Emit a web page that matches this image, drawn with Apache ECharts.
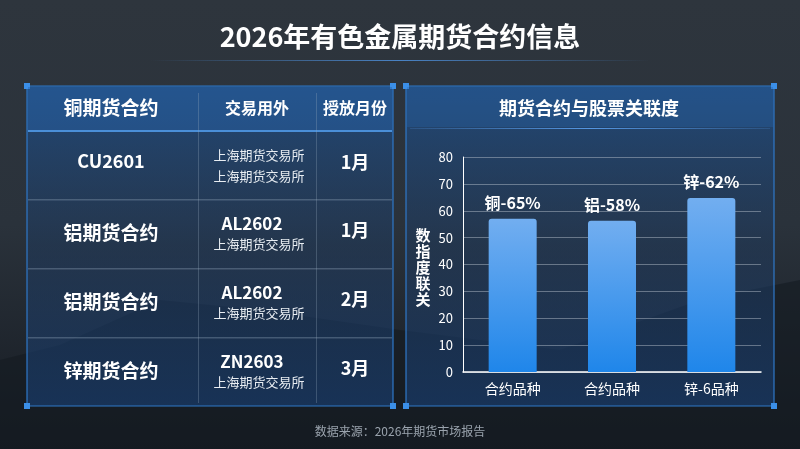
<!DOCTYPE html>
<html><head><meta charset="utf-8">
<script src="https://cdn.jsdelivr.net/npm/echarts@6/dist/echarts.min.js"></script>
<style>html,body{margin:0;padding:0;background:#1c232b}#c{width:800px;height:449px}</style>
</head><body><div id="c"></div>
<script>
var categories = ['合约品种', '合约品种', '锌-6品种'];
var values = [57, 56.3, 64.7];
var barLabels = ['铜-65%', '铝-58%', '锌-62%'];
var yTicks = [0, 10, 20, 30, 40, 50, 60, 70, 80];
var tableHeader = ['铜期货合约', '交易用外', '授放月份'];
var tableCol1 = ['CU2601', '铝期货合约', '铝期货合约', '锌期货合约'];
var tableCol2Top = ['上海期货交易所', 'AL2602', 'AL2602', 'ZN2603'];
var tableCol2Bottom = ['上海期货交易所', '上海期货交易所', '上海期货交易所', '上海期货交易所'];
var tableCol3 = ['1月', '1月', '2月', '3月'];

var F = '"Noto Sans CJK SC","Noto Sans",sans-serif';
var g = [];
// background
g.push({type:'rect',shape:{x:0,y:0,width:800,height:449},style:{fill:new echarts.graphic.LinearGradient(0,0,0,1,[{offset:0,color:'#2e353d'},{offset:0.5,color:'#2a323b'},{offset:1,color:'#161b22'}])},z:-10});
g.push({type:'polygon',shape:{points:[[0,360],[60,345],[160,300],[260,310],[400,330],[560,350],[700,300],[800,280],[800,449],[0,449]]},style:{fill:'rgba(20,26,33,0.6)'},z:-9});
// title
g.push({type:'text',x:400,y:37,style:{text:'2026年有色金属期货合约信息',fill:'#fff',font:'bold 27px '+F,align:'center',verticalAlign:'middle',shadowColor:'rgba(0,0,0,0.6)',shadowBlur:4}});
g.push({type:'rect',shape:{x:150,y:60,width:500,height:1},style:{fill:new echarts.graphic.LinearGradient(0,0,1,0,[{offset:0,color:'rgba(80,150,230,0)'},{offset:0.5,color:'rgba(80,150,230,0.8)'},{offset:1,color:'rgba(80,150,230,0)'}])}});
g.push({type:'text',x:400,y:431,style:{text:'数据来源：2026年期货市场报告',fill:'#9aa3ad',font:'12px '+F,align:'center',verticalAlign:'middle'}});
function panel(x,y,w,h){
  g.push({type:'rect',shape:{x:x,y:y,width:w,height:h},style:{fill:new echarts.graphic.LinearGradient(0,0,0,1,[{offset:0,color:'rgba(30,80,140,0.75)'},{offset:0.5,color:'rgba(30,60,100,0.45)'},{offset:1,color:'rgba(25,65,120,0.6)'}]),stroke:'#2f78c8',lineWidth:1.2},z:-5});
  [[x,y],[x+w,y],[x,y+h],[x+w,y+h]].forEach(function(p){g.push({type:'rect',shape:{x:p[0]-3,y:p[1]-3,width:6,height:6},style:{fill:'#3b8fe8'}});});
}
panel(27,86,366,320);
panel(406,86,368,320);
// table
var cx=[111,257,355];
g.push({type:'rect',shape:{x:28,y:87,width:364,height:44},style:{fill:'rgba(40,100,170,0.45)'}});
g.push({type:'rect',shape:{x:28,y:130,width:364,height:2},style:{fill:'#4a8fd8'}});
tableHeader.forEach(function(t,i){g.push({type:'text',x:cx[i],y:108,style:{text:t,fill:'#fff',font:'bold '+(i==0?19:16)+'px '+F,align:'center',verticalAlign:'middle'}});});
[198,316].forEach(function(x){g.push({type:'rect',shape:{x:x,y:93,width:1,height:310},style:{fill:'rgba(150,170,190,0.3)'}});});
var rowTop=[131,199,268,337];
rowTop.forEach(function(y,i){
  if(i>0) g.push({type:'rect',shape:{x:28,y:y,width:364,height:1.5},style:{fill:'rgba(150,170,190,0.35)'}});
  var m=y+34;
  g.push({type:'text',x:cx[0],y:m-(i==0?4:0),style:{text:tableCol1[i],fill:'#fff',font:'bold '+(i==0?18:19)+'px '+F,align:'center',verticalAlign:'middle'}});
  if(i==0){
    g.push({type:'text',x:cx[1]+2,y:m-10,style:{text:tableCol2Top[i],fill:'#e8edf2',font:'13px '+F,align:'center',verticalAlign:'middle'}});
  } else {
    g.push({type:'text',x:cx[1]-5,y:m-9,style:{text:tableCol2Top[i],fill:'#fff',font:'bold 17px '+F,align:'center',verticalAlign:'middle'}});
  }
  g.push({type:'text',x:cx[1]+2,y:m+11,style:{text:tableCol2Bottom[i],fill:'#e8edf2',font:'13px '+F,align:'center',verticalAlign:'middle'}});
  g.push({type:'text',x:cx[2],y:m-3,style:{text:tableCol3[i],fill:'#fff',font:'bold 18px '+F,align:'center',verticalAlign:'middle'}});
});
// chart panel title
g.push({type:'rect',shape:{x:407,y:87,width:366,height:40},style:{fill:'rgba(40,100,170,0.35)'}});
g.push({type:'rect',shape:{x:410,y:128,width:360,height:1},style:{fill:new echarts.graphic.LinearGradient(0,0,1,0,[{offset:0,color:'rgba(80,150,230,0.2)'},{offset:0.5,color:'rgba(90,160,240,0.9)'},{offset:1,color:'rgba(80,150,230,0.2)'}])}});
g.push({type:'text',x:589,y:108,style:{text:'期货合约与股票关联度',fill:'#fff',font:'bold 18px '+F,align:'center',verticalAlign:'middle'}});
g.push({type:'text',x:423,y:267,style:{text:'数\n指\n度\n联\n关',fill:'#fff',font:'bold 15px '+F,align:'center',verticalAlign:'middle',lineHeight:16}});

var chart = echarts.init(document.getElementById('c'));
chart.setOption({
  animation:false,
  graphic:{elements:g},
  grid:{left:463,right:39,top:157,bottom:77},
  xAxis:{type:'category',data:categories,axisLine:{lineStyle:{color:'#fff',width:1.5}},axisTick:{show:false},axisLabel:{color:'#fff',fontSize:14,fontFamily:F,margin:10}},
  yAxis:{type:'value',min:0,max:80,interval:10,axisLine:{show:true,lineStyle:{color:'#fff'}},axisLabel:{color:'#fff',fontSize:13,fontFamily:F,margin:10,formatter:function(v){return yTicks.indexOf(v)>=0?v:'';}},splitLine:{lineStyle:{color:'rgba(190,200,210,0.45)'}}},
  series:[{type:'bar',data:values,barWidth:48,
    itemStyle:{borderRadius:[3,3,0,0],color:new echarts.graphic.LinearGradient(0,0,0,1,[{offset:0,color:'#72aef0'},{offset:1,color:'#1f86ea'}])},
    label:{show:true,position:'top',distance:8,color:'#fff',fontSize:16,fontWeight:'bold',fontFamily:F,formatter:function(p){return barLabels[p.dataIndex];}}}]
});
</script></body></html>
